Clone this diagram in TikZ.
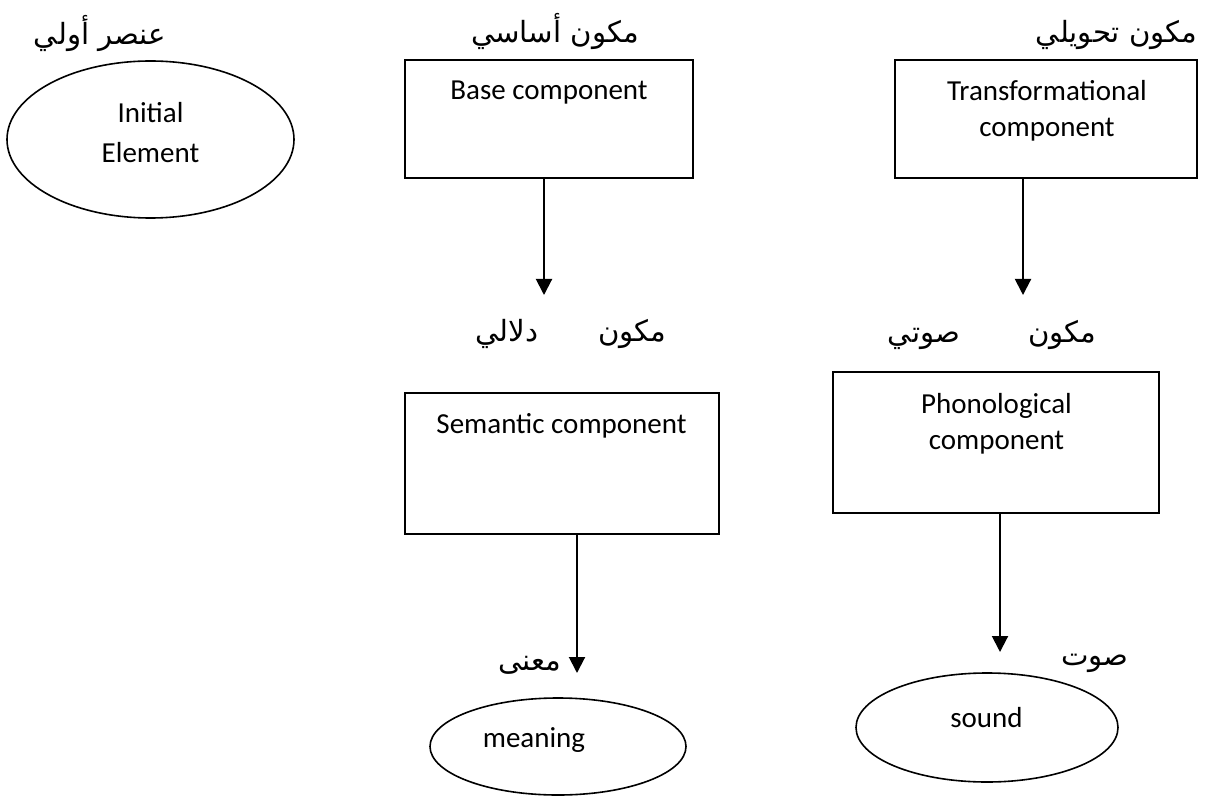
\documentclass[tikz,border=0pt]{standalone}
\usepackage{fontspec}
\setmainfont{Carlito}
\newfontfamily\arabicfont[Script=Arabic]{DejaVu Sans}
\TeXXeTstate=1
\usetikzlibrary{shapes.geometric,arrows.meta}
\tikzset{
 box/.style={draw, line width=1pt, inner sep=0pt, rectangle},
 oval/.style={draw, ellipse, line width=0.8pt, inner sep=0pt},
 lbl/.style={inner sep=0pt, font=\fontsize{14.5}{18}\selectfont, align=center},
 ar/.style={inner sep=0pt, font=\arabicfont\fontsize{14.6}{18}\selectfont},
 arr/.style={line width=1pt, -{Triangle[length=8pt,width=8pt]}},
}
\begin{document}
\begin{tikzpicture}[x=0.5pt,y=-0.5pt]
\path[use as bounding box, fill=white] (0,0) rectangle (1208,796);

% boxes
\node[box, minimum width=144pt, minimum height=59pt] (base) at (549,119) {};
\node[box, minimum width=151pt, minimum height=59pt] (trans) at (1046,119) {};
\node[box, minimum width=157pt, minimum height=70.5pt] (sem) at (562,463.5) {};
\node[box, minimum width=163pt, minimum height=70.5pt] (phon) at (996,442.5) {};
% ellipses
\node[oval, minimum width=143.5pt, minimum height=78.5pt] (init) at (150.5,139.5) {};
\node[oval, minimum width=128pt, minimum height=48.5pt] (mean) at (558,746.5) {};
\node[oval, minimum width=131pt, minimum height=54.5pt] (snd) at (987,727.5) {};

% english texts
\node[lbl, anchor=north] (baseT) at (549,80) {Base component};
\node[lbl, anchor=north] (transT) at (1047,80) {Transformational\\component};
\node[lbl, anchor=north] (semT) at (561.5,413) {Semantic component};
\node[lbl, anchor=north] (phonT) at (996.5,393) {Phonological\\component};
\node[lbl, anchor=north, font=\fontsize{14.5}{20}\selectfont] (initT) at (150.5,102) {Initial\\Element};
\node[lbl, anchor=base] (meanT) at (534,747) {meaning};
\node[lbl, anchor=base] (sndT) at (986.5,727) {sound};

% arabic texts
\node[ar] (initA) at (100,33) {\beginR عنصر أولي\endR};
\node[ar] (baseA) at (555,31) {\beginR مكون أساسي\endR};
\node[ar, anchor=east] (transA) at (1198,35) {\beginR مكون تحويلي\endR};
\node[ar, anchor=east] (semA) at (667,334) {\beginR مكون\hspace{30pt}دلالي\endR};
\node[ar, anchor=east] (phonA) at (1097,335) {\beginR مكون\hspace{34pt}صوتي\endR};
\node[ar] (meanA) at (530,665) {\beginR معنى\endR};
\node[ar] (sndA) at (1095,663) {\beginR صوت\endR};

% arrows
\coordinate (baseE) at (544,295);
\draw[arr] (base.south -| baseE) -- (baseE);
\coordinate (transE) at (1023,295);
\draw[arr] (trans.south -| transE) -- (transE);
\coordinate (semE) at (577,673);
\draw[arr] (sem.south -| semE) -- (semE);
\coordinate (phonE) at (1000,652);
\draw[arr] (phon.south -| phonE) -- (phonE);
\end{tikzpicture}
\end{document}
